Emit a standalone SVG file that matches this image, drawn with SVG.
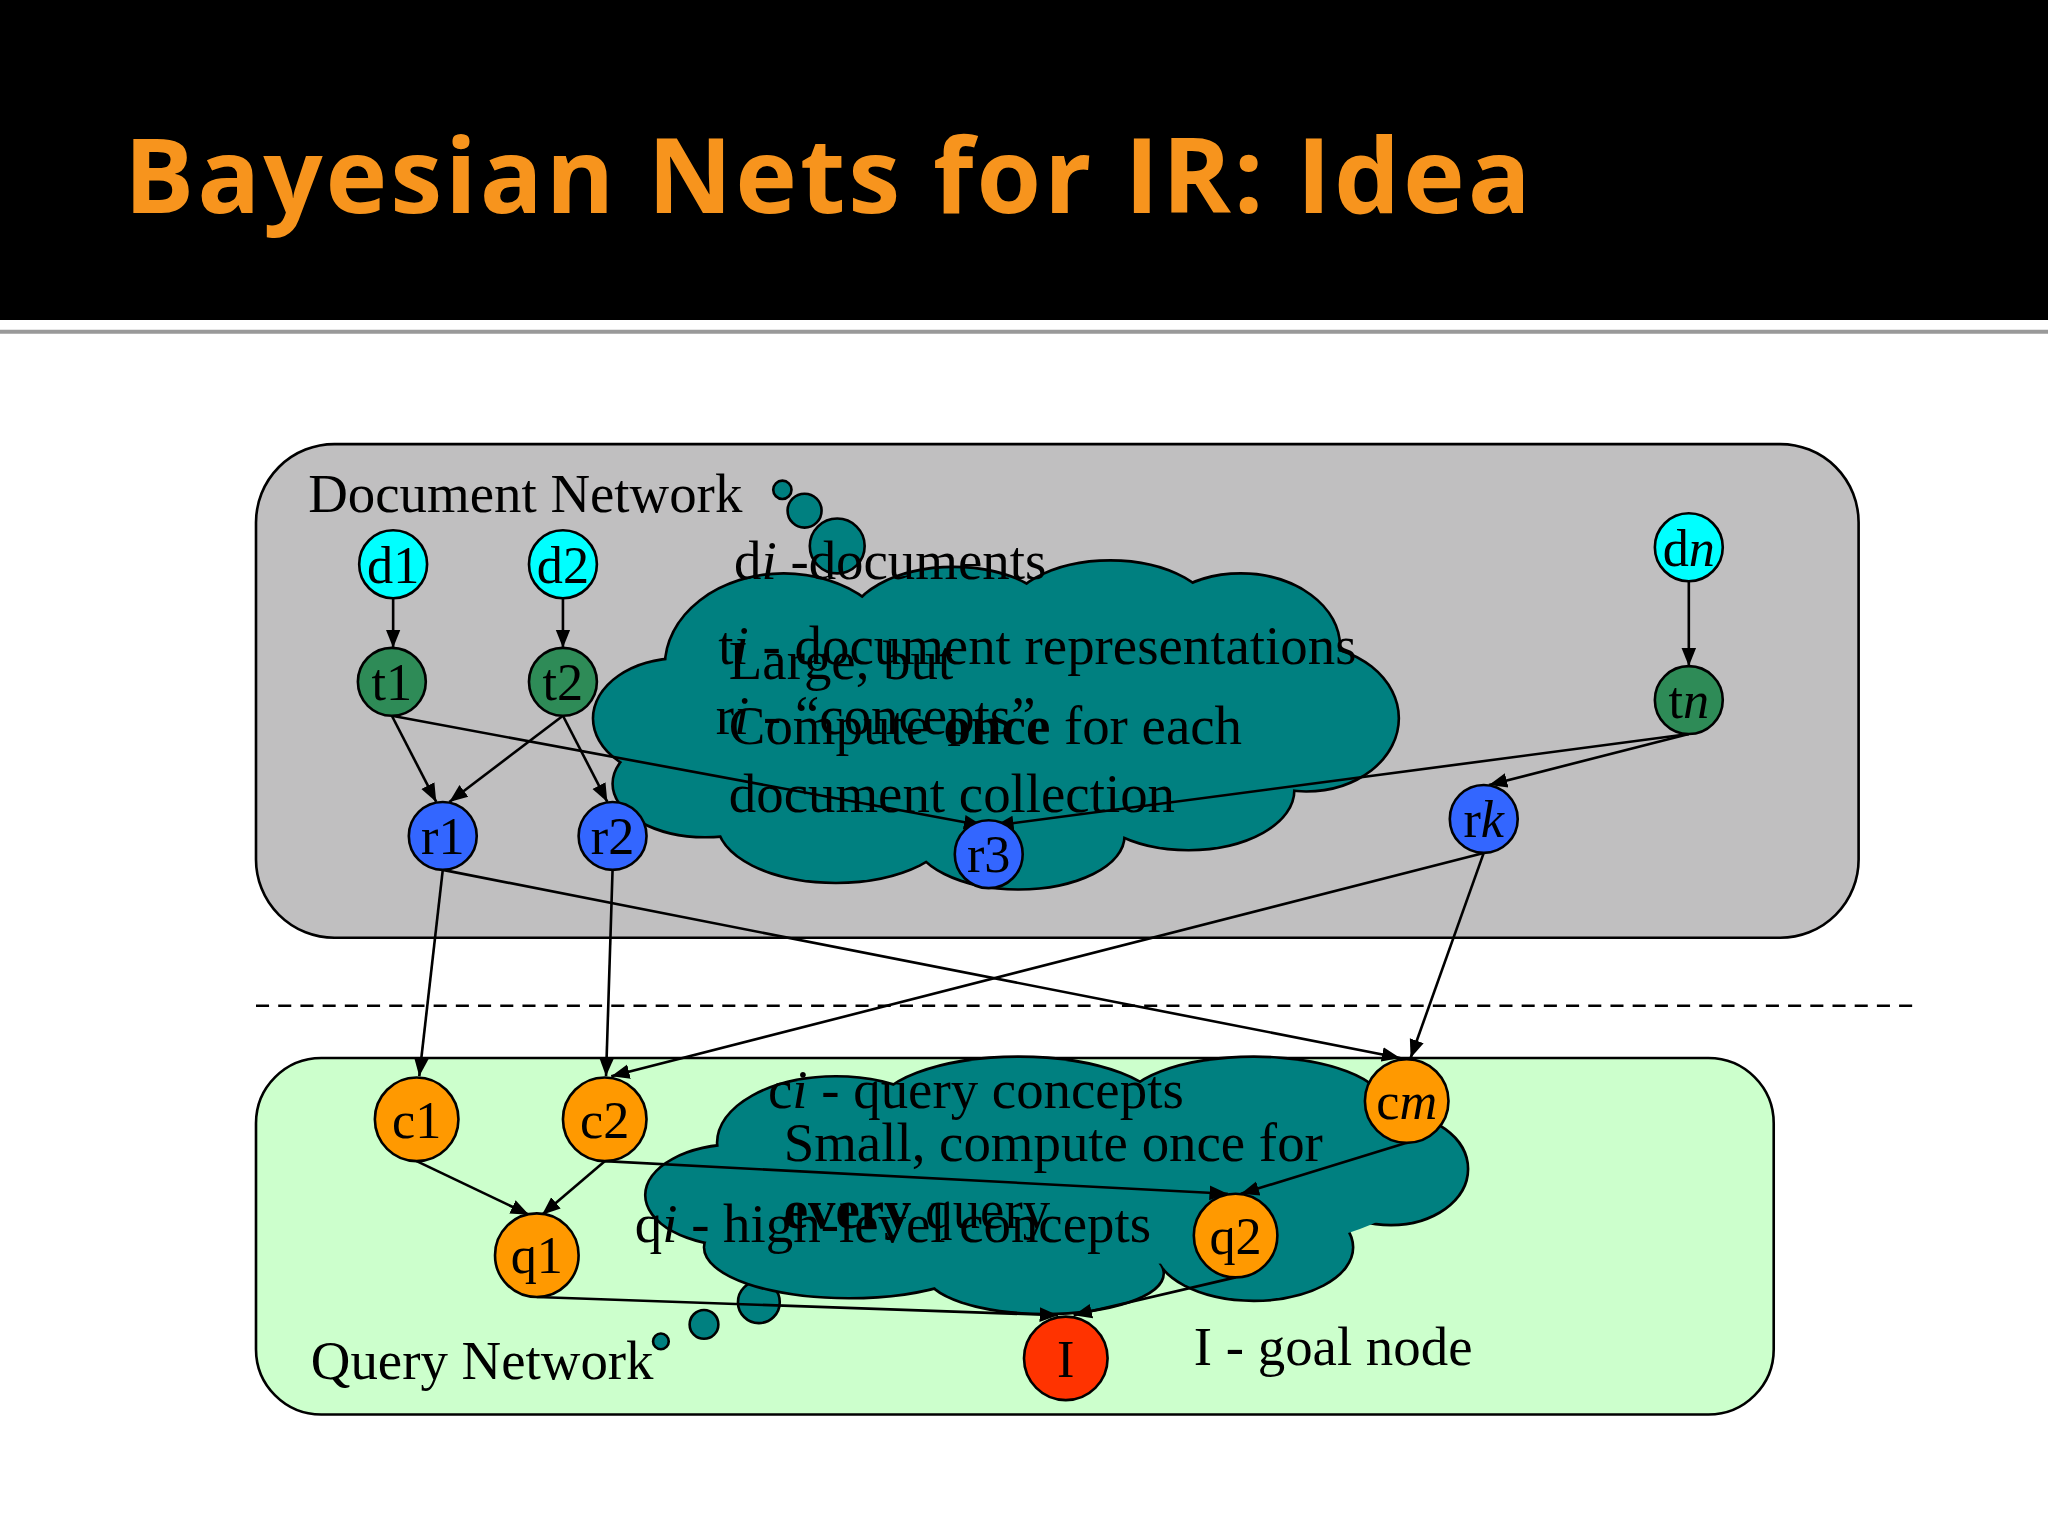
<svg xmlns="http://www.w3.org/2000/svg" width="2048" height="1536" viewBox="0 0 2048 1536">
<defs>
<marker id="ah" viewBox="0 0 10 10" refX="10" refY="5" markerWidth="7" markerHeight="7" orient="auto"><path d="M0,1 L10,5 L0,9 z" fill="#000"/></marker>
<style>
.t{font-family:"Liberation Serif",serif;font-size:42px;fill:#000}
.n{font-family:"Liberation Serif",serif;font-size:40px;fill:#000;text-anchor:middle}
.nd circle{stroke:#000;stroke-width:2}
.e line{stroke:#000;stroke-width:2;marker-end:url(#ah)}
.cs ellipse{fill:none;stroke:#000;stroke-width:4}
.cf ellipse{fill:#008080}
.b{fill:#008080;stroke:#000;stroke-width:2}
</style>
</defs>
<rect width="2048" height="1536" fill="#fff"/>
<g transform="scale(1.30612)">
<rect x="0" y="0" width="1568" height="245" fill="#000"/>
<line x1="0" y1="254" x2="1568" y2="254" stroke="#999" stroke-width="3"/>
<text x="95" y="163" font-family="Open Sans, sans-serif" font-weight="bold" font-size="80" fill="#f7941d" textLength="1077">Bayesian Nets for IR: Idea</text>
<g id="docnet"><rect x="196" y="340" width="1227" height="378" rx="60" fill="#c0bfc0" stroke="#000" stroke-width="2"/></g>
<line x1="196" y1="770" x2="1470" y2="770" stroke="#000" stroke-width="2" stroke-dasharray="10,7"/>
<g id="querynet"><rect x="196" y="810" width="1162" height="273" rx="50" fill="#ccffcc" stroke="#000" stroke-width="2"/></g>
<text class="t" x="236" y="392">Document Network</text>
<text class="t" x="238" y="1056">Query Network</text>
<g id="cloud1">
<circle class="b" cx="599" cy="375" r="7"/><circle class="b" cx="616" cy="391" r="13"/><circle class="b" cx="641" cy="418" r="21"/>
<g class="cs"><ellipse cx="600" cy="510" rx="90" ry="70"/><ellipse cx="730" cy="480" rx="80" ry="45"/><ellipse cx="850" cy="475" rx="80" ry="45"/><ellipse cx="950" cy="495" rx="75" ry="55"/><ellipse cx="1000" cy="550" rx="70" ry="55"/><ellipse cx="520" cy="550" rx="65" ry="45"/><ellipse cx="540" cy="600" rx="70" ry="40"/><ellipse cx="640" cy="630" rx="90" ry="45"/><ellipse cx="780" cy="640" rx="80" ry="40"/><ellipse cx="910" cy="605" rx="80" ry="45"/></g>
<g class="cf"><ellipse cx="600" cy="510" rx="90" ry="70"/><ellipse cx="730" cy="480" rx="80" ry="45"/><ellipse cx="850" cy="475" rx="80" ry="45"/><ellipse cx="950" cy="495" rx="75" ry="55"/><ellipse cx="1000" cy="550" rx="70" ry="55"/><ellipse cx="520" cy="550" rx="65" ry="45"/><ellipse cx="540" cy="600" rx="70" ry="40"/><ellipse cx="640" cy="630" rx="90" ry="45"/><ellipse cx="780" cy="640" rx="80" ry="40"/><ellipse cx="910" cy="605" rx="80" ry="45"/><ellipse cx="760" cy="560" rx="240" ry="85"/></g>
</g>
<g id="cloud2">
<circle class="b" cx="506" cy="1027" r="6"/><circle class="b" cx="539" cy="1014" r="11"/><circle class="b" cx="581" cy="997" r="16"/>
<g class="cs"><ellipse cx="640" cy="875" rx="90" ry="50"/><ellipse cx="780" cy="852" rx="110" ry="42"/><ellipse cx="960" cy="848" rx="100" ry="38"/><ellipse cx="1065" cy="895" rx="58" ry="42"/><ellipse cx="565" cy="915" rx="70" ry="38"/><ellipse cx="650" cy="955" rx="110" ry="38"/><ellipse cx="800" cy="975" rx="90" ry="30"/><ellipse cx="960" cy="955" rx="75" ry="40"/></g>
<g class="cf"><ellipse cx="640" cy="875" rx="90" ry="50"/><ellipse cx="780" cy="852" rx="110" ry="42"/><ellipse cx="960" cy="848" rx="100" ry="38"/><ellipse cx="1065" cy="895" rx="58" ry="42"/><ellipse cx="565" cy="915" rx="70" ry="38"/><ellipse cx="650" cy="955" rx="110" ry="38"/><ellipse cx="800" cy="975" rx="90" ry="30"/><ellipse cx="960" cy="955" rx="75" ry="40"/><ellipse cx="810" cy="910" rx="270" ry="60"/></g>
</g>
<g id="labels">
<text class="t" x="562" y="443">d<tspan font-style="italic">i</tspan> -documents</text>
<text class="t" x="550" y="508">t<tspan font-style="italic">i</tspan> - document representations</text>
<text class="t" x="558" y="520">Large, but</text>
<text class="t" x="548" y="562">r<tspan font-style="italic">i</tspan> - “concepts”</text>
<text class="t" x="558" y="570">Compute <tspan font-weight="bold">once</tspan> for each</text>
<text class="t" x="558" y="622">document collection</text>
<text class="t" x="588" y="848">c<tspan font-style="italic">i</tspan> - query concepts</text>
<text class="t" x="600" y="889">Small, compute once for</text>
<text class="t" x="600" y="940"><tspan font-weight="bold">every</tspan> query</text>
<text class="t" x="486" y="951">q<tspan font-style="italic">i</tspan> - high-level concepts</text>
<text class="t" x="914" y="1045">I - goal node</text>
</g>
<g id="connectors" class="e">
<line x1="301" y1="458" x2="301" y2="496"/>
<line x1="431" y1="458" x2="431" y2="496"/>
<line x1="1293" y1="445" x2="1293" y2="510"/>
<line x1="300" y1="548" x2="334" y2="614"/>
<line x1="431" y1="548" x2="344" y2="614"/>
<line x1="431" y1="548" x2="465" y2="614"/>
<line x1="300" y1="548" x2="752" y2="632"/>
<line x1="1293" y1="562" x2="762" y2="632"/>
<line x1="1293" y1="562" x2="1140" y2="601"/>
<line x1="339" y1="666" x2="321" y2="824"/>
<line x1="469" y1="666" x2="464" y2="824"/>
<line x1="339" y1="666" x2="1072" y2="810"/>
<line x1="1136" y1="653" x2="468" y2="824"/>
<line x1="1136" y1="653" x2="1080" y2="810"/>
<line x1="319" y1="889" x2="405" y2="930"/>
<line x1="463" y1="889" x2="415" y2="930"/>
<line x1="463" y1="889" x2="940" y2="914"/>
<line x1="1077" y1="875" x2="950" y2="914"/>
<line x1="411" y1="993" x2="810" y2="1007"/>
<line x1="946" y1="978" x2="822" y2="1007"/>
</g>
<g class="nd">
<g id="d1"><circle cx="301" cy="432" r="26" fill="#00ffff"/><text class="n" x="301" y="446">d1</text></g>
<g id="d2"><circle cx="431" cy="432" r="26" fill="#00ffff"/><text class="n" x="431" y="446">d2</text></g>
<g id="dn"><circle cx="1293" cy="419" r="26" fill="#00ffff"/><text class="n" x="1293" y="433">d<tspan font-style="italic">n</tspan></text></g>
<g id="t1"><circle cx="300" cy="522" r="26" fill="#2e8b57"/><text class="n" x="300" y="536">t1</text></g>
<g id="t2"><circle cx="431" cy="522" r="26" fill="#2e8b57"/><text class="n" x="431" y="536">t2</text></g>
<g id="tn"><circle cx="1293" cy="536" r="26" fill="#2e8b57"/><text class="n" x="1293" y="550">t<tspan font-style="italic">n</tspan></text></g>
<g id="r1"><circle cx="339" cy="640" r="26" fill="#3366ff"/><text class="n" x="339" y="654">r1</text></g>
<g id="r2"><circle cx="469" cy="640" r="26" fill="#3366ff"/><text class="n" x="469" y="654">r2</text></g>
<g id="r3"><circle cx="757" cy="654" r="26" fill="#3366ff"/><text class="n" x="757" y="668">r3</text></g>
<g id="rk"><circle cx="1136" cy="627" r="26" fill="#3366ff"/><text class="n" x="1136" y="641">r<tspan font-style="italic">k</tspan></text></g>
<g id="c1"><circle cx="319" cy="857" r="32" fill="#ff9900"/><text class="n" x="319" y="871">c1</text></g>
<g id="c2"><circle cx="463" cy="857" r="32" fill="#ff9900"/><text class="n" x="463" y="871">c2</text></g>
<g id="cm"><circle cx="1077" cy="843" r="32" fill="#ff9900"/><text class="n" x="1077" y="857">c<tspan font-style="italic">m</tspan></text></g>
<g id="q1"><circle cx="411" cy="961" r="32" fill="#ff9900"/><text class="n" x="411" y="975">q1</text></g>
<g id="q2"><circle cx="946" cy="946" r="32" fill="#ff9900"/><text class="n" x="946" y="960">q2</text></g>
<g id="I"><circle cx="816" cy="1040" r="32" fill="#ff3300"/><text class="n" x="816" y="1054">I</text></g>
</g>
</g>
</svg>
